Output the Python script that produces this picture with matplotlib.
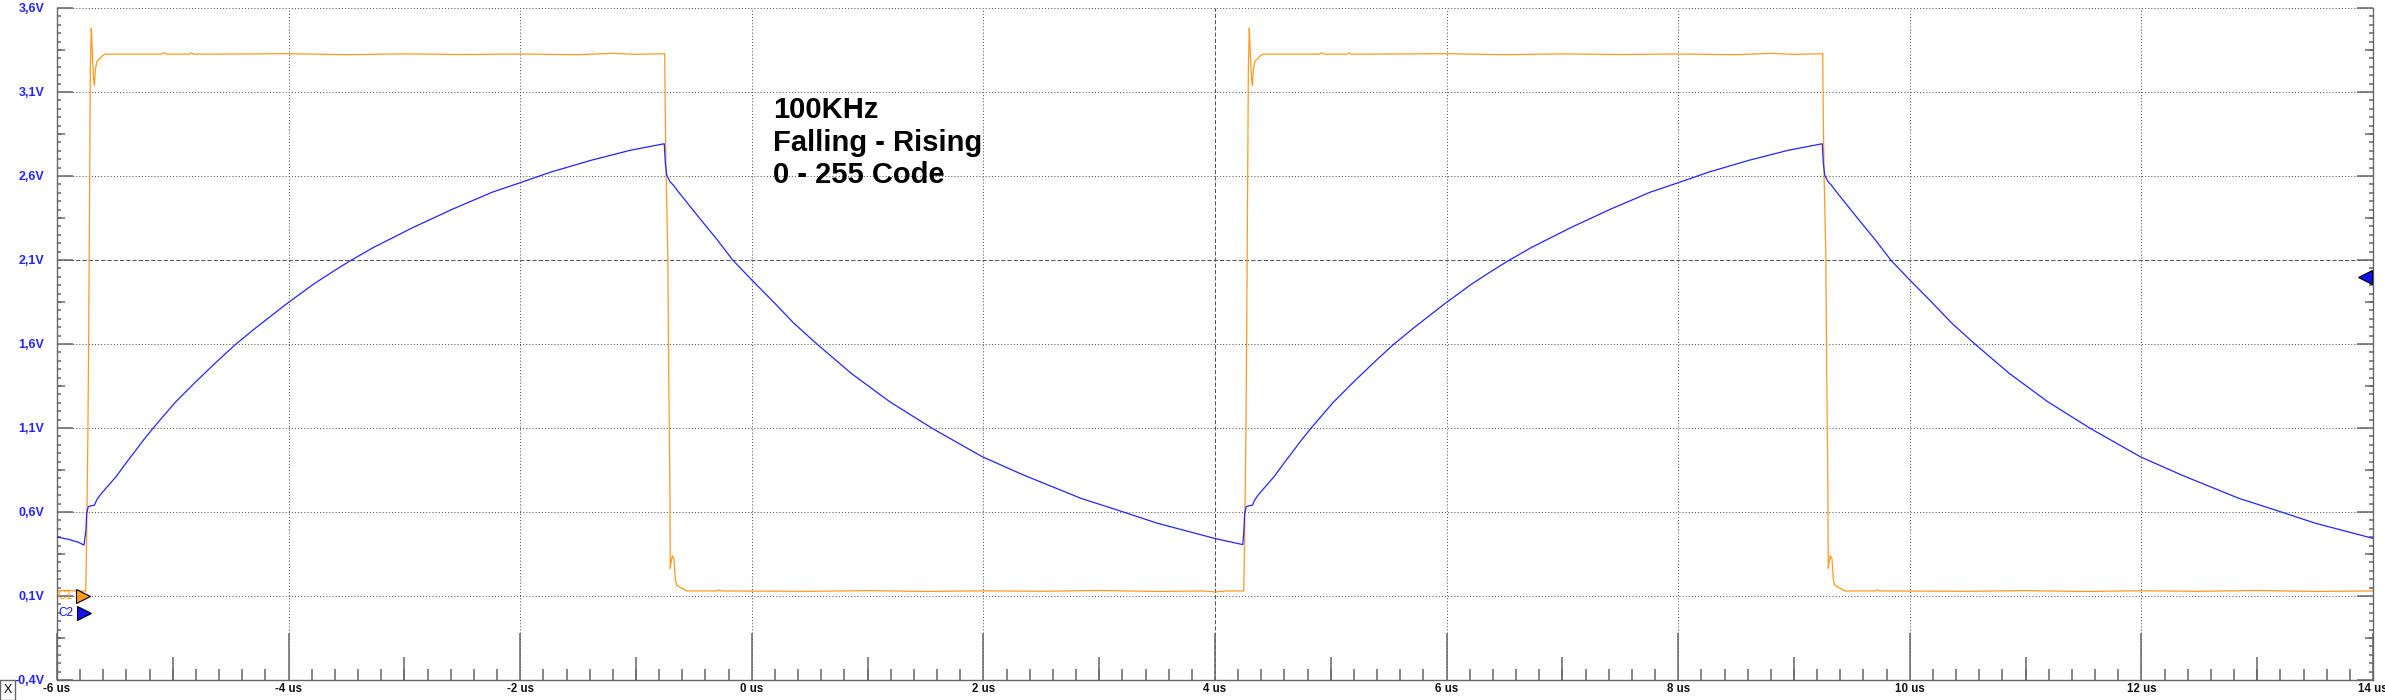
import matplotlib
matplotlib.use("Agg")
import matplotlib.pyplot as plt
from matplotlib.ticker import MultipleLocator
from matplotlib.patches import Rectangle

# Channel C1 (orange square wave), time in us, level in V
c1_time = [-6.00, -5.90, -5.82, -5.752, -5.747, -5.740, -5.733, -5.726, -5.719, -5.712,
           -5.704, -5.698, -5.690, -5.683, -5.677, -5.669, -5.657, -5.645, -5.629, -5.610,
           -5.586, -5.10, -5.08, -5.05, -4.86, -4.84, -4.82, -4.00, -3.50, -3.00,
           -2.50, -2.00, -1.50, -1.20, -1.00, -0.752, -0.747, -0.740, -0.725, -0.718,
           -0.708, -0.704, -0.698, -0.687, -0.672, -0.660, -0.649, -0.620, -0.590, -0.562,
           -0.30, -0.28, -0.26, 0.50, 1.00, 1.50, 2.00, 2.50, 3.00, 3.50,
           3.90, 4.00, 4.10, 4.248, 4.253, 4.260, 4.267, 4.274, 4.281, 4.288,
           4.296, 4.302, 4.310, 4.317, 4.323, 4.331, 4.343, 4.355, 4.371, 4.390,
           4.414, 4.90, 4.92, 4.95, 5.14, 5.16, 5.18, 6.00, 6.50, 7.00,
           7.50, 8.00, 8.50, 8.80, 9.00, 9.248, 9.253, 9.260, 9.275, 9.282,
           9.292, 9.296, 9.302, 9.313, 9.328, 9.340, 9.351, 9.380, 9.410, 9.438,
           9.70, 9.72, 9.74, 10.50, 11.00, 11.50, 12.00, 12.50, 13.00, 13.50,
           14.00]
c1_volts = [0.130, 0.134, 0.128, 0.130, 0.31, 0.67, 1.08, 1.70, 2.46, 3.24,
            3.48, 3.38, 3.26, 3.17, 3.14, 3.23, 3.28, 3.29, 3.30, 3.315,
            3.325, 3.325, 3.333, 3.325, 3.325, 3.333, 3.325, 3.328, 3.322, 3.327,
            3.323, 3.326, 3.322, 3.330, 3.324, 3.328, 2.95, 2.60, 2.13, 1.46,
            0.80, 0.265, 0.295, 0.34, 0.32, 0.198, 0.165, 0.152, 0.142, 0.130,
            0.130, 0.136, 0.130, 0.128, 0.132, 0.127, 0.131, 0.128, 0.133, 0.127,
            0.130, 0.124, 0.130, 0.130, 0.31, 0.67, 1.08, 1.70, 2.46, 3.24,
            3.48, 3.38, 3.26, 3.17, 3.14, 3.23, 3.28, 3.29, 3.30, 3.315,
            3.325, 3.325, 3.333, 3.325, 3.325, 3.333, 3.325, 3.328, 3.322, 3.327,
            3.323, 3.326, 3.322, 3.330, 3.324, 3.328, 2.95, 2.60, 2.13, 1.46,
            0.80, 0.265, 0.295, 0.34, 0.32, 0.198, 0.165, 0.152, 0.142, 0.130,
            0.130, 0.136, 0.130, 0.128, 0.132, 0.127, 0.131, 0.128, 0.133, 0.127,
            0.130]

# Channel C2 (blue RC charge / discharge)
c2_time = [-6.000, -5.900, -5.816, -5.767, -5.750, -5.744, -5.730, -5.700, -5.677, -5.657,
           -5.629, -5.560, -5.488, -5.400, -5.317, -5.240, -5.164, -5.070, -4.976, -4.805,
           -4.634, -4.464, -4.293, -4.150, -4.010, -3.781, -3.620, -3.474, -3.269, -2.927,
           -2.586, -2.244, -2.009, -1.732, -1.391, -1.050, -0.756, -0.747, -0.735, -0.706,
           -0.678, -0.635, -0.577, -0.462, -0.297, -0.165, 0.000, 0.199, 0.364, 0.562,
           0.859, 1.190, 1.553, 1.990, 2.347, 2.843, 3.173, 3.503, 3.996, 4.100,
           4.240, 4.250, 4.256, 4.270, 4.300, 4.323, 4.343, 4.371, 4.440, 4.512,
           4.600, 4.683, 4.760, 4.836, 4.930, 5.024, 5.195, 5.366, 5.536, 5.707,
           5.850, 5.990, 6.219, 6.380, 6.526, 6.731, 7.073, 7.414, 7.756, 7.991,
           8.268, 8.609, 8.950, 9.244, 9.253, 9.265, 9.294, 9.322, 9.365, 9.423,
           9.538, 9.703, 9.835, 10.000, 10.199, 10.364, 10.562, 10.859, 11.190, 11.553,
           11.990, 12.347, 12.843, 13.173, 13.503, 14.000]
c2_volts = [0.451, 0.437, 0.420, 0.403, 0.493, 0.592, 0.632, 0.638, 0.640, 0.671,
            0.700, 0.755, 0.812, 0.895, 0.970, 1.040, 1.104, 1.180, 1.255, 1.373,
            1.486, 1.594, 1.691, 1.768, 1.843, 1.958, 2.030, 2.093, 2.174, 2.293,
            2.402, 2.503, 2.558, 2.624, 2.693, 2.753, 2.792, 2.680, 2.606, 2.566,
            2.546, 2.507, 2.457, 2.358, 2.219, 2.100, 1.981, 1.842, 1.723, 1.600,
            1.425, 1.257, 1.100, 0.929, 0.820, 0.681, 0.608, 0.533, 0.443, 0.427,
            0.406, 0.493, 0.592, 0.632, 0.638, 0.640, 0.671, 0.700, 0.755, 0.812,
            0.895, 0.970, 1.040, 1.104, 1.180, 1.255, 1.373, 1.486, 1.594, 1.691,
            1.768, 1.843, 1.958, 2.030, 2.093, 2.174, 2.293, 2.402, 2.503, 2.558,
            2.624, 2.693, 2.753, 2.792, 2.680, 2.606, 2.566, 2.546, 2.507, 2.457,
            2.358, 2.219, 2.100, 1.981, 1.842, 1.723, 1.600, 1.425, 1.257, 1.100,
            0.929, 0.820, 0.681, 0.608, 0.533, 0.443]

# Axis ticks and labels
x_ticks = [-6, -4, -2, 0, 2, 4, 6, 8, 10, 12, 14]
x_labels = ["-6 us", "-4 us", "-2 us", "0 us", "2 us", "4 us", "6 us", "8 us", "10 us", "12 us", "14 us"]
x_mid_ticks = [-5, -3, -1, 1, 3, 5, 7, 9, 11, 13]
y_ticks = [-0.4, 0.1, 0.6, 1.1, 1.6, 2.1, 2.6, 3.1, 3.6]
y_labels = ["-0,4V", "0,1V", "0,6V", "1,1V", "1,6V", "2,1V", "2,6V", "3,1V", "3,6V"]
y_mid_ticks = [-0.15, 0.35, 0.85, 1.35, 1.85, 2.35, 2.85, 3.35]
x_center = 4
y_center = 2.1

c1_offset = 0.1
c2_offset = 0.0
trigger_level = 2.0

note = "100KHz\nFalling - Rising\n0 - 255 Code"

orange = "#ff9a1e"
blue = "#2424ff"
marker_blue = "#1010f0"
gray = "#666666"
grid_gray = "#555555"
label_font = "Liberation Sans"

W, H = 2385, 700
fig = plt.figure(figsize=(W / 100, H / 100), dpi=100, facecolor="white")
ax = fig.add_axes([57 / W, 20 / H, 2316 / W, 672 / H])

ax.set_xlim(x_ticks[0], x_ticks[-1])
ax.set_ylim(y_ticks[0], y_ticks[-1])

# grid: dotted, center lines dashed
for xv in x_ticks[1:-1]:
    ls = (0, (4, 2)) if xv == x_center else (0, (1, 2))
    ax.axvline(xv, color=grid_gray, lw=0.75, ls=ls, zorder=0.5)
for yv in y_ticks[1:]:
    ls = (0, (4, 2)) if yv == y_center else (0, (1, 2))
    ax.axhline(yv, color=grid_gray, lw=0.75, ls=ls, zorder=0.5, clip_on=False)

# traces
ax.plot(c1_time, c1_volts, color=orange, lw=0.9, zorder=2)
ax.plot(c2_time, c2_volts, color=blue, lw=0.9, zorder=3)

# spines
for s in ["left", "right", "bottom"]:
    ax.spines[s].set_color(gray)
    ax.spines[s].set_linewidth(1.0)
ax.spines["top"].set_visible(False)

# x ticks
ax.set_xticks(x_ticks)
ax.set_xticklabels(x_labels)
ax.xaxis.set_minor_locator(MultipleLocator(0.2))
ax.tick_params(axis="x", which="major", direction="in", length=33.8, width=1.1, color=gray,
               top=False, pad=2, labelsize=8.3, labelcolor="#111111")
ax.tick_params(axis="x", which="minor", direction="in", length=7.9, width=1.1, color=gray, top=False)
for lab in ax.get_xticklabels():
    lab.set_fontweight("bold")
    lab.set_family(label_font)

# y ticks
ax.set_yticks(y_ticks)
ax.set_yticklabels(y_labels)
ax.yaxis.set_minor_locator(MultipleLocator(0.05))
ax.tick_params(axis="y", which="major", direction="in", length=11.5, width=1.1, color=gray,
               left=True, right=True, pad=9, labelsize=9, labelcolor=blue)
ax.tick_params(axis="y", which="minor", direction="in", length=3.1, width=1.1, color=gray,
               left=True, right=True)
for lab in ax.get_yticklabels():
    lab.set_fontweight("bold")
    lab.set_family(label_font)

# medium ticks through secondary axes
secx = ax.secondary_xaxis("bottom")
secx.set_xticks(x_mid_ticks)
secx.tick_params(axis="x", direction="in", length=16.6, width=1.1, color=gray, labelbottom=False)
secx.spines["bottom"].set_visible(False)
for loc in ["left", "right"]:
    secy = ax.secondary_yaxis(loc)
    secy.set_yticks(y_mid_ticks)
    secy.tick_params(axis="y", direction="in", length=5.8, width=1.1, color=gray,
                     labelleft=False, labelright=False)
    secy.spines[loc].set_visible(False)

# annotation text
ax.text(0.18, 3.075, note, fontsize=21, fontweight="bold", family=label_font,
        va="top", ha="left", linespacing=1.2, zorder=5)

# channel markers
ytr = ax.get_yaxis_transform()
ax.plot([0.0113], [c1_offset], marker=">", ms=10.5, color=orange, mec="black", mew=0.8,
        transform=ytr, clip_on=False, zorder=6)
ax.plot([0.0118], [c2_offset], marker=">", ms=10.5, color=marker_blue, mec="black", mew=0.8,
        transform=ytr, clip_on=False, zorder=6)
ax.text(0.0002, c1_offset, "C1", color=orange, fontsize=8.5, family=label_font,
        transform=ytr, va="center", ha="left")
ax.text(0.0004, c2_offset, "C2", color=marker_blue, fontsize=8.5, family=label_font,
        transform=ytr, va="center", ha="left")
ax.plot([0.9966], [trigger_level], marker="<", ms=10.5, color=marker_blue, mec="black", mew=0.8,
        transform=ytr, clip_on=False, zorder=6)

# "X" box in the corner
fig.add_artist(Rectangle((0, 0), 15 / W, 20 / H, transform=fig.transFigure, fill=False,
                         edgecolor=gray, lw=1.0))
fig.text(7.5 / W, 10 / H, "X", ha="center", va="center", fontsize=9, family=label_font)

fig.savefig("out.png", dpi=100, facecolor="white")
